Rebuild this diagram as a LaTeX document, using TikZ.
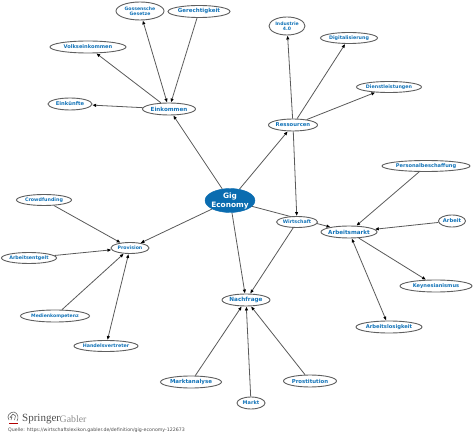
\documentclass[tikz,border=0pt]{standalone}
\usepackage{fontspec}
\setmainfont{DejaVu Sans}
\newfontfamily\logofont{Liberation Serif}
\usetikzlibrary{shapes.geometric,arrows.meta}
\pgfdeclarelayer{edgelayer}
\pgfsetlayers{edgelayer,main}
\definecolor{txtblue}{HTML}{1273B8}
\definecolor{gigblue}{HTML}{0A6CB0}
\definecolor{bord}{HTML}{5F5F5F}
\tikzset{
 x=1pt,y=-1pt,
 topic/.style n args={4}{ellipse,draw=bord,line width=0.9pt,fill=white,inner sep=0pt,
   minimum width=#1pt,minimum height=#2pt,
   label={[inner sep=0pt,text=txtblue,align=center,font=\fontsize{#3}{#3}\selectfont\bfseries]center:#4}},
 conn/.style={draw=black!65,line width=0.8pt,-{Latex[length=4pt,width=3.5pt,color=black]}},
 both/.style={draw=black!65,line width=0.8pt,{Latex[length=4pt,width=3.5pt,color=black]}-{Latex[length=4pt,width=3.5pt,color=black]}},
}
\begin{document}
\begin{tikzpicture}
\useasboundingbox (0,0) rectangle (474,438);
\node[ellipse,fill=gigblue,draw=gigblue,inner sep=0pt,minimum width=50pt,minimum height=24pt,
  label={[inner sep=0pt,text=white,align=center,font=\fontsize{7.4}{9}\selectfont\bfseries]center:{Gig\\Economy}}] (gig) at (230,200.5) {};
\node[topic={48}{18}{4.6}{{Gossensche\\Gesetze}}] (goss) at (140,11) {};
\node[topic={62}{12}{5.5}{Gerechtigkeit}] (ger) at (199,11.5) {};
\node[topic={76}{12}{5.1}{Volkseinkommen}] (volk) at (88,47) {};
\node[topic={44}{12}{5.2}{Einkünfte}] (eink) at (70,104) {};
\node[topic={53}{12}{5.6}{Einkommen}] (einkom) at (169,109) {};
\node[topic={36}{18}{4.6}{{Industrie\\4.0}}] (ind) at (287,26) {};
\node[topic={57}{11}{4.8}{Digitalisierung}] (dig) at (349,38) {};
\node[topic={65}{11}{4.8}{Dienstleistungen}] (dien) at (389,87) {};
\node[topic={49}{12}{5.3}{Ressourcen}] (res) at (293,125) {};
\node[topic={55}{11}{4.8}{Crowdfunding}] (crowd) at (44,200) {};
\node[topic={55}{11}{4.8}{Arbeitsentgelt}] (arbe) at (29,258) {};
\node[topic={38}{11}{4.7}{Provision}] (prov) at (130,248) {};
\node[topic={41}{11}{4.8}{Wirtschaft}] (wirt) at (297,222) {};
\node[topic={56}{12}{5.6}{Arbeitsmarkt}] (amarkt) at (349,232) {};
\node[topic={88}{11}{5.1}{Personalbeschaffung}] (pers) at (426,166) {};
\node[topic={27}{12}{5.2}{Arbeit}] (arb) at (452,221) {};
\node[topic={72}{12}{5.1}{Keynesianismus}] (keyn) at (436,286) {};
\node[topic={69}{12}{4.6}{Medienkompetenz}] (med) at (55,316) {};
\node[topic={64}{11}{4.8}{Handelsvertreter}] (hand) at (106,346) {};
\node[topic={61}{12}{5.5}{Marktanalyse}] (mana) at (191,382) {};
\node[topic={48}{12}{5.7}{Nachfrage}] (nach) at (246,300) {};
\node[topic={66}{12}{5.2}{Arbeitslosigkeit}] (alos) at (389,327) {};
\node[topic={53}{12}{5.4}{Prostitution}] (prost) at (310,381) {};
\node[topic={28}{12}{5}{Markt}] (markt) at (251,403) {};
\begin{pgfonlayer}{edgelayer}
\draw[conn] (gig) -- (einkom);
\draw[conn] (gig) -- (res);
\draw[conn] (gig) -- (prov);
\draw[conn] (gig) -- (nach);
\draw[conn] (gig) -- (amarkt);
\draw[both] (einkom) -- (goss);
\draw[conn] (ger) -- (einkom);
\draw[conn] (einkom) -- (volk);
\draw[conn] (einkom) -- (eink);
\draw[conn] (res) -- (ind);
\draw[conn] (res) -- (dig);
\draw[conn] (res) -- (dien);
\draw[conn] (res) -- (wirt);
\draw[conn] (wirt) -- (nach);
\draw[conn] (crowd) -- (prov);
\draw[conn] (arbe) -- (prov);
\draw[conn] (med) -- (prov);
\draw[both] (hand) -- (prov);
\draw[conn] (pers) -- (amarkt);
\draw[conn] (arb) -- (amarkt);
\draw[conn] (amarkt) -- (keyn);
\draw[both] (amarkt) -- (alos);
\draw[conn] (mana) -- (nach);
\draw[conn] (markt) -- (nach);
\draw[conn] (prost) -- (nach);
\end{pgfonlayer}
% publisher logo
\draw[black!60,line width=0.6pt,line join=round] (9,420) .. controls (6,416) and (10,412) .. (14,412) .. controls (18,413) and (19,418) .. (17,421);
\draw[black!60,line width=0.6pt,line join=round] (11,420) -- (12,417) -- (10,417.5) -- (13,414) -- (15.5,416) -- (14.5,420);
\draw[red!70!black,line width=0.5pt] (9,423.5) -- (18,423.5);
\node[anchor=west,inner sep=0pt,text=black!70,font=\logofont\fontsize{11}{11}\selectfont] (spr) at (22,419) {Springer};
\node[anchor=west,inner sep=0pt,text=black!45,font=\logofont\fontsize{9.8}{11}\selectfont] (gab) at (59.5,419) {Gabler};
\node[anchor=west,inner sep=0pt,text=black!70,font=\fontsize{4.7}{5}\selectfont] (src) at (8,430) {Quelle: https://wirtschaftslexikon.gabler.de/definition/gig-economy-122673};
\end{tikzpicture}
\end{document}
